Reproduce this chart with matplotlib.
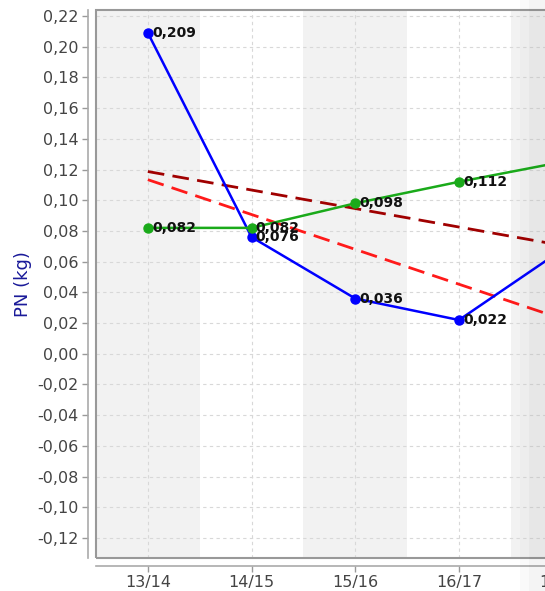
import matplotlib
matplotlib.use("Agg")
import matplotlib.pyplot as plt
from matplotlib.patches import Rectangle

# seasons on the x axis (the last one is cut off at the right edge)
seasons = ["13/14", "14/15", "15/16", "16/17", "17/18"]

# PN per season
pn_blue = [0.209, 0.076, 0.036, 0.022, 0.068]
pn_green = [0.082, 0.082, 0.098, 0.112, 0.125]

# trend lines, value at the first and the last season
trend_dark_x = [0, 4]
trend_dark = [0.1187, 0.0705]
trend_red_x = [0, 4]
trend_red = [0.1134, 0.0226]

yticks = [round(-0.12 + 0.02 * i, 2) for i in range(18)]


def fmt(v):
    return ("%.3f" % v).replace(".", ",")


fig = plt.figure(figsize=(5.45, 5.91), dpi=100)
ax = fig.add_axes([96 / 545, 1 - 558 / 591, (575 - 96) / 545, 548 / 591])

x = list(range(len(seasons)))
per_px = 1 / 103.7
ax.set_xlim(-0.5, -0.5 + (575 - 96) * per_px)
ax.set_ylim(-0.133, 0.2239)

# alternating background bands
for i in x:
    if i % 2 == 0:
        ax.axvspan(i - 0.5, i + 0.5, color="#f2f2f2", zorder=0, lw=0)

ax.grid(True, color="#d8d8d8", linestyle=(0, (3, 3)), linewidth=0.8)
ax.set_axisbelow(True)

dash = (0, (6, 3))
ax.plot(trend_dark_x, trend_dark, color="#a00000", lw=2, linestyle=dash, zorder=2)
ax.plot(trend_red_x, trend_red, color="#ff1a1a", lw=2, linestyle=dash, zorder=2)
ax.plot(x, pn_blue, color="#0000ff", lw=1.8, marker="o", ms=6.5, zorder=3)
ax.plot(x, pn_green, color="#1aaa1a", lw=1.8, marker="o", ms=6.5, zorder=3)

for xs, ys in ((x[:4], pn_blue[:4]), (x[:4], pn_green[:4])):
    for xi, yi in zip(xs, ys):
        ax.annotate(fmt(yi), (xi, yi), xytext=(3, 0), textcoords="offset points",
                    ha="left", va="center", fontsize=10, fontweight="bold",
                    color="#111111", zorder=4)

ax.set_xticks(x)
ax.set_xticklabels(seasons)
ax.set_yticks(yticks)
ax.set_yticklabels([("%.2f" % v).replace(".", ",") for v in yticks])
ax.tick_params(colors="#999999", labelcolor="#444444", labelsize=11.5,
               length=4, width=1, pad=3)

for side in ("top", "right"):
    ax.spines[side].set_visible(False)
for side in ("left", "bottom"):
    ax.spines[side].set_position(("outward", 5.5))
    ax.spines[side].set_color("#aaaaaa")
    ax.spines[side].set_linewidth(1.2)

# frame around the data area
ax.add_patch(Rectangle((0, 0), 1, 1, transform=ax.transAxes, fill=False,
                       edgecolor="#999999", lw=1.5, clip_on=False, zorder=5))

ax.set_ylabel("PN (kg)", color="#1a1a99", fontsize=13, labelpad=4)

# soft shadow at the right edge of the picture
for x0, a in ((520, 0.02), (529, 0.025)):
    fig.patches.append(Rectangle((x0 / 545, 0), 1, 1, transform=fig.transFigure,
                                 color="black", alpha=a, lw=0, zorder=10))

fig.savefig("out.png", dpi=100)
